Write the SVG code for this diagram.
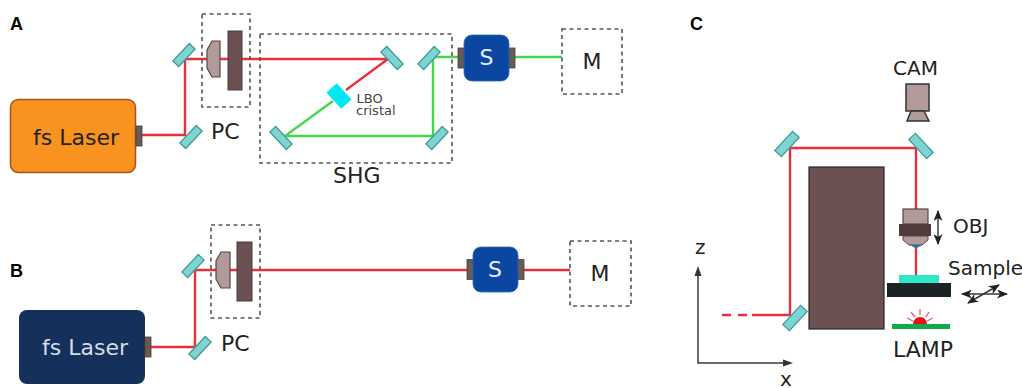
<svg xmlns="http://www.w3.org/2000/svg" width="1022" height="388" viewBox="0 0 1022 388">
<style>
text{font-family:"DejaVu Sans",sans-serif;fill:#222}
.p{font-family:"Liberation Sans",Arial,sans-serif;font-weight:bold;font-size:18px;fill:#000}
.t{font-size:22px}.c{font-size:20px}
.dash{fill:none;stroke:#555;stroke-width:1.6;stroke-dasharray:4 3.5}
.mir{fill:#7fd3d0;stroke:#3f9c9c;stroke-width:1.3}
.port{fill:#6a5a52;stroke:#4a403a;stroke-width:.8}
.lens{fill:#b09a9a;stroke:#5a4646;stroke-width:1.2}
.plate{fill:#6b5151;stroke:#4d3b3b;stroke-width:1}
.r{fill:none;stroke:#e8303c;stroke-width:2.4}
.g{fill:none;stroke:#46d64c;stroke-width:2.4}
.ax{fill:none;stroke:#3a3a3a;stroke-width:1.5}
</style>
<defs>
<rect id="m" class="mir" x="-12" y="-4" width="24" height="8"/>
<rect id="mc" class="mir" x="-13" y="-4.500" width="26" height="9"/>
<marker id="ah" viewBox="0 0 11 9" refX="10" refY="4.500" markerWidth="11" markerHeight="9" markerUnits="userSpaceOnUse" orient="auto-start-reverse"><path d="M0 0L11 4.500L0 9L3 4.500Z" fill="#222"/></marker>
</defs>
<text class="p" x="10" y="30">A</text>
<text class="p" x="10" y="277">B</text>
<text class="p" x="690" y="30">C</text>
<g id="connectors">
<path class="r" d="M142 135H185V59H388L346 90"/>
<path class="g" d="M333 101L285 136H433V57H458"/>
<path class="g" d="M515 57H562"/>
<path class="r" d="M151 347H195V270H467"/>
<path class="r" d="M524 270H570"/>
<path class="r" d="M763 315H790V148H916V209"/>
<path class="r" d="M722 315H731M738 315H747M752 315H763"/>
<path class="r" d="M916 248V276"/>
<path class="ax" d="M698 269V363H790"/>
<path d="M698 266L694.500 276H701.500Z" fill="#333"/>
<path d="M793 363L783 359.500V366.500Z" fill="#333"/>
<path class="ax" d="M938 211V244" marker-start="url(#ah)" marker-end="url(#ah)"/>
<path class="ax" d="M962 294H1007" marker-start="url(#ah)" marker-end="url(#ah)"/>
<path class="ax" d="M968 303L999 285" marker-start="url(#ah)" marker-end="url(#ah)"/>
</g>
<g id="laser-a"><rect x="10.500" y="99.500" width="125" height="73" rx="8" fill="#f7931e" stroke="#a9501f" stroke-width="1.5"/><text class="t" x="33" y="145">fs Laser</text></g>
<rect id="port-a" class="port" x="136" y="126" width="6" height="20"/>
<g id="pc-a"><rect class="dash" x="202" y="14" width="48" height="93"/>
<path class="lens" d="M212 41H220V77H212L207 68V50Z"/><rect class="plate" x="228" y="31" width="14" height="59"/><text class="t" x="211" y="139">PC</text></g>
<g id="shg"><rect class="dash" x="260" y="34" width="192" height="129"/><text class="t" x="333" y="183">SHG</text>
<rect x="-11" y="-7" width="22" height="14" fill="#00e8f2" transform="translate(339 96) rotate(48)"/>
<text x="356.500" y="103" font-size="13" style="fill:#444">LBO</text><text x="356" y="115" font-size="13" style="fill:#444">cristal</text></g>
<g id="mirrors-a">
<use href="#m" transform="translate(184 55) rotate(-47)"/><use href="#m" transform="translate(191 137) rotate(-47)"/>
<use href="#m" transform="translate(392 58) rotate(47)"/><use href="#m" transform="translate(429 58) rotate(-47)"/>
<use href="#m" transform="translate(281 138) rotate(47)"/><use href="#m" transform="translate(437 138) rotate(-47)"/>
</g>
<g id="s-a"><rect class="port" x="458" y="48" width="6" height="20"/><rect class="port" x="509" y="48" width="6" height="20"/><rect x="464" y="35" width="45" height="46" rx="8" fill="#0b47a1" stroke="#2a6cc0" stroke-width=".8"/><text class="t" x="486.500" y="65" text-anchor="middle" style="fill:#e6eefa">S</text></g>
<g id="m-a"><rect class="dash" x="562" y="29" width="60" height="65"/><text class="t" x="592" y="69" text-anchor="middle">M</text></g>

<g id="laser-b"><rect x="19" y="310" width="126" height="74" rx="8" fill="#15305a"/><text class="t" x="42" y="355" style="fill:#d5dce6">fs Laser</text></g>
<rect id="port-b" class="port" x="145" y="337" width="6" height="20"/>
<g id="pc-b"><rect class="dash" x="211" y="225" width="49" height="93"/>
<path class="lens" d="M221 252H230V288H221L216 279V261Z"/><rect class="plate" x="237" y="242" width="15" height="59"/><text class="t" x="221" y="351">PC</text></g>
<g id="mirrors-b"><use href="#m" transform="translate(193 266) rotate(-47)"/><use href="#m" transform="translate(200 348) rotate(-47)"/></g>
<g id="s-b"><rect class="port" x="467" y="259.500" width="6" height="20"/><rect class="port" x="518" y="259.500" width="6" height="20"/><rect x="473" y="247" width="45" height="45" rx="8" fill="#0b47a1" stroke="#2a6cc0" stroke-width=".8"/><text class="t" x="495" y="277" text-anchor="middle" style="fill:#e6eefa">S</text></g>
<g id="m-b"><rect class="dash" x="570" y="241" width="61" height="65"/><text class="t" x="600" y="281" text-anchor="middle">M</text></g>

<g id="mirrors-c"><use href="#mc" transform="translate(787 144) rotate(-47)"/><use href="#mc" transform="translate(921 146) rotate(47)"/><use href="#mc" transform="translate(795 318) rotate(-47)"/></g>
<g id="cam"><text class="c" x="893" y="75">CAM</text><rect class="lens" x="906" y="84" width="23" height="27" style="stroke:#333;stroke-width:1.500"/><path d="M911 111H924L929 121H907Z" fill="#b09a9a" stroke="#333" stroke-width="1.500"/></g>
<rect id="block" x="809" y="167" width="75" height="162" fill="#6b5151" stroke="#2e2424" stroke-width="1.200"/>
<g id="obj"><rect class="lens" x="903" y="209" width="25" height="15"/><path d="M903 236H928V240L922 245H909L903 240Z" fill="#b09a9a" stroke="#5a4646"/><rect x="899" y="224" width="32" height="12" fill="#503c3c"/><path d="M910 245H922L916 248.500Z" fill="#1c7a9c"/><text class="c" x="953" y="233">OBJ</text></g>
<g id="sample"><rect x="899" y="275" width="40" height="8" fill="#2de8c8"/><rect x="887" y="283" width="64" height="14" fill="#1b2424"/><text class="c" x="948" y="275">Sample</text></g>
<g id="lamp"><rect x="892" y="324" width="58" height="5" fill="#14a84a"/><path d="M913 324A7 7 0 0 1 927 324Z" fill="#e8101c"/><path d="M907 318L913 321M911 312L915 317M920 309V315M929 312L926 317M933 318L927 321" stroke="#e8606a" stroke-width="1.300" fill="none"/><text class="t" x="893" y="357">LAMP</text></g>
<text class="c" x="695" y="254">z</text>
<text class="c" x="780" y="386">x</text>
</svg>
